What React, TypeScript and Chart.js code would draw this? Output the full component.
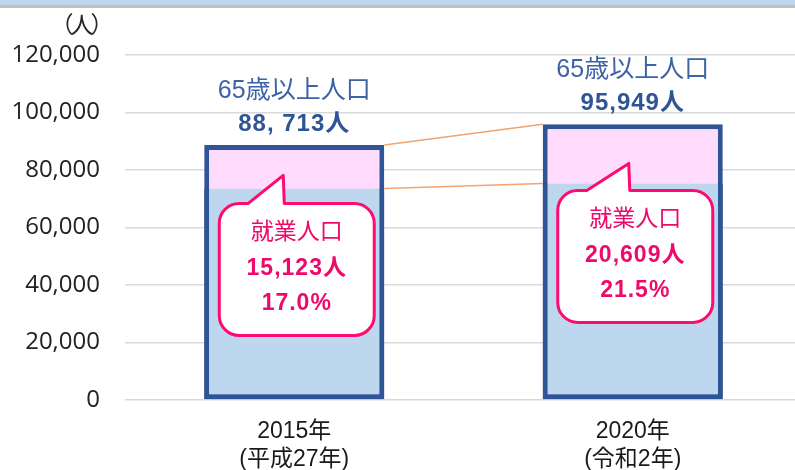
import React, { useEffect, useRef } from "react";
import { Chart, registerables } from "chart.js";
Chart.register(...registerables);

const categories = [["2015年", "(平成27年)"], ["2020年", "(令和2年)"]];
const total65 = [88713, 95949];
const nonEmployed65 = [73590, 75340];
const total65Labels = ["88, 713人", "95,949人"];
const employedLabels = ["15,123人", "20,609人"];
const employedPct = ["17.0%", "21.5%"];
const seriesTitleTop = "65歳以上人口";
const seriesTitleBubble = "就業人口";
const unitLabel = "（人）";

const FONT = "'Liberation Sans', 'Noto Sans CJK JP', sans-serif";
const TICK_FONT = "'Open Sans', 'Noto Sans CJK JP', sans-serif";
const PINK = "#FF0A6E";
const PINK_TEXT = "#EE0A6A";

const overlayPlugin = {
  id: "overlay",
  afterDatasetsDraw(chart: any) {
    const ctx = chart.ctx as CanvasRenderingContext2D;
    const lo = chart.getDatasetMeta(0).data as any[];
    const hi = chart.getDatasetMeta(1).data as any[];
    ctx.save();
    // connector lines
    ctx.strokeStyle = "#F2A46E";
    ctx.lineWidth = 1.5;
    for (let i = 0; i < hi.length - 1; i++) {
      const a = hi[i], b = hi[i + 1];
      ctx.beginPath();
      ctx.moveTo(a.x + a.width / 2, a.y);
      ctx.lineTo(b.x - b.width / 2, b.y);
      ctx.stroke();
      const c = lo[i], d = lo[i + 1];
      ctx.beginPath();
      ctx.moveTo(c.x + c.width / 2, c.y);
      ctx.lineTo(d.x - d.width / 2, d.y);
      ctx.stroke();
    }
    const topOff = [15, 7];
    const tipDx = [-11, -4];
    const tipDy = [-13, -20];
    for (let i = 0; i < hi.length; i++) {
      const bar = hi[i];
      const boundary = lo[i].y;
      const cx = bar.x;
      // labels above the bar
      ctx.textAlign = "center";
      ctx.textBaseline = "middle";
      ctx.fillStyle = "#3C63A8";
      ctx.font = `25px ${FONT}`;
      ctx.fillText(seriesTitleTop, cx, bar.y - 54);
      ctx.fillStyle = "#2F5597";
      ctx.font = `bold 24px ${FONT}`;
      (ctx as any).letterSpacing = "1px";
      ctx.fillText(total65Labels[i], cx, bar.y - 21);
      (ctx as any).letterSpacing = "0px";

      // bubble
      const L = cx - 75, R = cx + 80;
      const T = boundary + topOff[i], B = T + 132;
      const r = 20;
      const tipX = cx + tipDx[i], tipY = boundary + tipDy[i];
      const b1 = cx - 46, b2 = tipX + 1;
      ctx.beginPath();
      ctx.moveTo(L + r, T);
      ctx.lineTo(b1, T);
      ctx.lineTo(tipX, tipY);
      ctx.lineTo(b2, T);
      ctx.lineTo(R - r, T);
      ctx.arcTo(R, T, R, T + r, r);
      ctx.lineTo(R, B - r);
      ctx.arcTo(R, B, R - r, B, r);
      ctx.lineTo(L + r, B);
      ctx.arcTo(L, B, L, B - r, r);
      ctx.lineTo(L, T + r);
      ctx.arcTo(L, T, L + r, T, r);
      ctx.closePath();
      ctx.fillStyle = "#FFFFFF";
      ctx.fill();
      ctx.strokeStyle = PINK;
      ctx.lineWidth = 3;
      ctx.lineJoin = "round";
      ctx.stroke();

      const tx = (L + R) / 2;
      ctx.fillStyle = PINK_TEXT;
      ctx.font = `23px ${FONT}`;
      ctx.fillText(seriesTitleBubble, tx, T + 29);
      ctx.font = `bold 23px ${FONT}`;
      (ctx as any).letterSpacing = "1px";
      ctx.fillText(employedLabels[i], tx, T + 65);
      ctx.fillText(employedPct[i], tx, T + 100);
      (ctx as any).letterSpacing = "0px";
    }
    // unit label, drawn glyph by glyph to keep the parentheses tight
    const ys = chart.scales.y;
    ctx.fillStyle = "#262626";
    ctx.font = `23px 'Noto Sans CJK JP', sans-serif`;
    ctx.textAlign = "center";
    const ux = ys.right - 43;
    const chars = Array.from(unitLabel);
    const step = 20;
    chars.forEach((ch, k) => {
      ctx.fillText(ch, ux + (k - (chars.length - 1) / 2) * step, 24);
    });
    ctx.restore();
  },
};

export default function App() {
  const ref = useRef<HTMLCanvasElement | null>(null);
  useEffect(() => {
    if (!ref.current) return;
    const chart = new Chart(ref.current, {
      type: "bar",
      data: {
        labels: categories,
        datasets: [
          {
            data: nonEmployed65,
            backgroundColor: "#BDD7EE",
            borderColor: "#2F5597",
            borderWidth: 5,
            borderSkipped: "top",
            barPercentage: 0.532,
            categoryPercentage: 1,
            grouped: false,
          },
          {
            data: total65,
            backgroundColor: "#FFDCFE",
            borderColor: "#2F5597",
            borderWidth: 5,
            borderSkipped: false,
            barPercentage: 0.532,
            categoryPercentage: 1,
            grouped: false,
          },
        ],
      },
      options: {
        responsive: false,
        animation: false,
        devicePixelRatio: 1,
        layout: { padding: { top: 55, right: 8, left: 0, bottom: 0 } },
        plugins: { legend: { display: false }, tooltip: { enabled: false } },
        scales: {
          x: {
            grid: { display: false, drawTicks: false },
            border: { display: false },
            ticks: {
              color: "#1A1A1A",
              font: { size: 23, family: FONT, lineHeight: 1.22 },
              padding: 18,
              maxRotation: 0,
            },
            afterFit: (s: any) => {
              s.height = 70;
            },
          },
          y: {
            min: 0,
            max: 120000,
            grid: { color: "#D9D9D9", lineWidth: 1.5, drawTicks: false },
            border: { display: false },
            ticks: {
              stepSize: 20000,
              color: "#222222",
              font: { size: 24, family: TICK_FONT },
              padding: 25,
              callback: (v: any) => Number(v).toLocaleString("en-US"),
            },
            afterFit: (s: any) => {
              s.width = 125;
            },
          },
        },
      },
      plugins: [overlayPlugin],
    });
    return () => chart.destroy();
  }, []);
  return (
    <div
      style={{
        position: "fixed",
        left: 0,
        top: 0,
        width: 795,
        height: 470,
        overflow: "hidden",
        background: "#FFFFFF",
      }}
    >
      <canvas
        ref={ref}
        width={810}
        height={470}
        style={{ position: "absolute", left: 0, top: 0, width: 810, height: 470 }}
      />
      <div style={{ position: "absolute", left: 0, top: 0, width: 795, height: 5, background: "#BDD7EE" }} />
      <div style={{ position: "absolute", left: 0, top: 5, width: 795, height: 3, background: "#BFBFBF" }} />
    </div>
  );
}
